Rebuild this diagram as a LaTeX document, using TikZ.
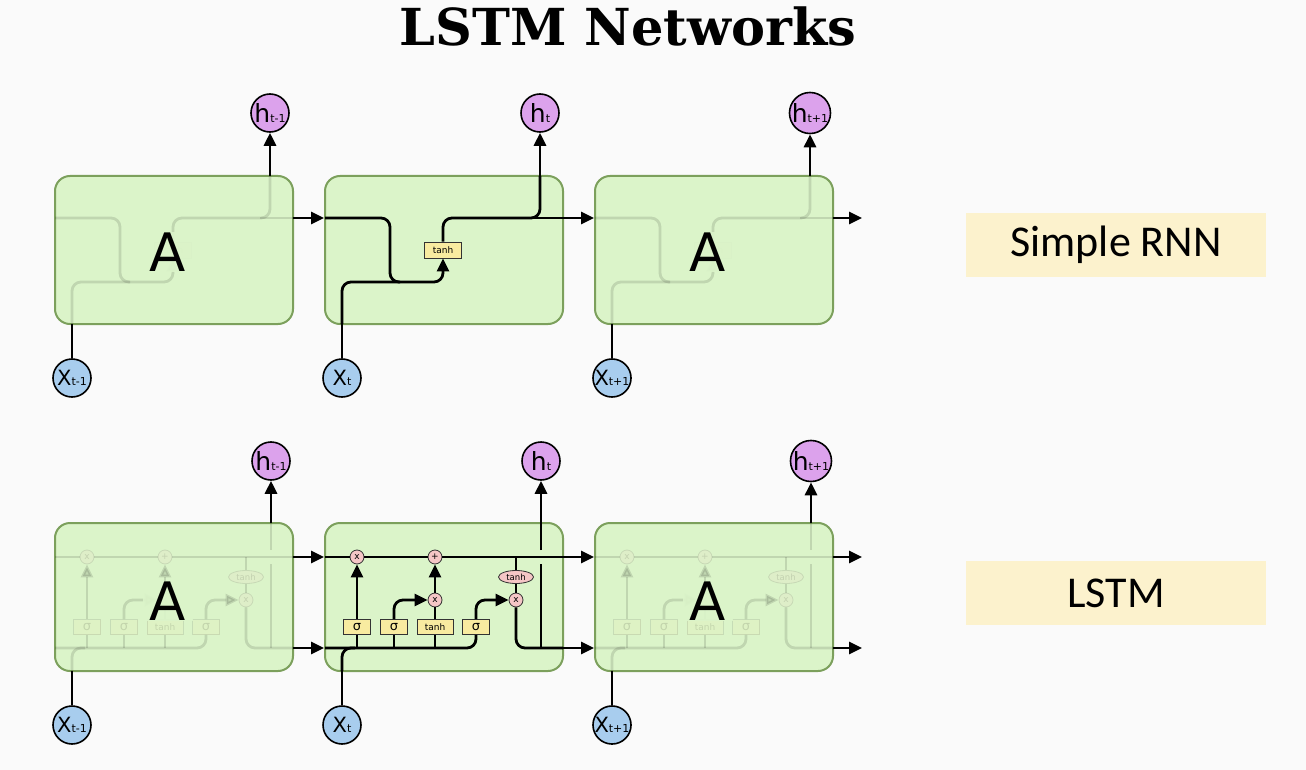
\documentclass[tikz,border=0pt]{standalone}
\usepackage{fontspec}
\setmainfont{DejaVu Sans}
\newfontfamily\titlefont{DejaVu Serif}
\newfontfamily\tagfont{Carlito}
\usetikzlibrary{arrows.meta,shapes.geometric}

\definecolor{bg}{HTML}{FAFAFA}
\definecolor{cellfill}{HTML}{DBF4C9}
\definecolor{celledge}{HTML}{7CA05C}
\definecolor{hfill}{HTML}{DCA2EC}
\definecolor{xfill}{HTML}{A8CDEE}
\definecolor{opfill}{HTML}{F5C6C6}
\definecolor{gatefill}{HTML}{F8EBA0}
\definecolor{tagfill}{HTML}{FCF2CD}

\tikzset{
  wire/.style={line width=2.8pt},
  rwire/.style={wire, rounded corners=9pt},
  arr/.style={-{Triangle[length=13pt,width=12pt]}},
  cellbox/.style={fill=cellfill, draw=celledge, line width=2pt, rounded corners=15pt,
    minimum width=238pt, minimum height=148pt, inner sep=0pt},
  hnode/.style={circle, draw=black, line width=1.6pt, fill=hfill, minimum size=38pt, inner sep=0pt},
  xnode/.style={circle, draw=black, line width=1.6pt, fill=xfill, minimum size=38pt, inner sep=0pt},
  opnode/.style={circle, draw=black!80, line width=0.8pt, fill=opfill, minimum size=14pt,
    inner sep=0pt, font=\fontsize{9}{9}\selectfont},
  gate/.style={rectangle, draw=black!80, line width=0.8pt, fill=gatefill, minimum height=15pt,
    minimum width=27pt, inner sep=0pt, font=\fontsize{13}{13}\selectfont},
  tanhop/.style={ellipse, draw=black!80, line width=0.8pt, fill=opfill, minimum width=35pt,
    minimum height=13pt, inner sep=0pt, font=\fontsize{8.5}{8.5}\selectfont},
  faded/.style={opacity=0.12},
  bigA/.style={font=\fontsize{53}{53}\selectfont, fill=cellfill, fill opacity=0.92,
    text opacity=1, inner xsep=7pt, inner ysep=1pt},
  tagbox/.style={fill=tagfill, minimum width=300pt, minimum height=64pt, inner sep=0pt,
    font=\tagfont\fontsize{44}{44}\selectfont},
}

\newcommand\hlab[1]{{\fontsize{25}{25}\selectfont h}{\fontsize{11}{11}\selectfont #1}}
\newcommand\xlab[1]{{\fontsize{21}{21}\selectfont X}{\fontsize{11}{11}\selectfont #1}}

% one simple recurrent unit: #1 name prefix, #2 time subscript, #3 style of the inner wiring
\newcommand\rnnunit[3]{%
  \node[cellbox] (#1box) at (444,250) {};
  \coordinate (#1in) at (325,218);
  \coordinate (#1out) at (563,218);
  \coordinate (#1xin) at (342,324);
  \coordinate (#1top) at (540,176);
  \begin{scope}[#3]
    \node[gate, minimum width=37pt, minimum height=16pt, font=\fontsize{9}{9}\selectfont]
      (#1tanh) at (443,250) {tanh};
    \draw[rwire, arr] (#1in) -- (390,218) -- (390,282) -- (443,282) -- (#1tanh);
    \draw[rwire] (#1xin) -- (342,282) -- (400,282);
    \draw[rwire] (#1tanh) -- (443,218) -- (540,218) -- (#1top);
    \draw[wire] (530,218) -- (#1out);
  \end{scope}
  \node[hnode] (#1h) at (540,113) {\hlab{#2}};
  \node[xnode] (#1x) at (342,378) {\xlab{#2}};
  \draw[wire, arr] (#1top) -- (#1h);
  \draw[wire] (#1x) -- (#1xin);
}

% one LSTM unit: #1 name prefix, #2 time subscript, #3 style of the inner wiring
\newcommand\lstmunit[3]{%
  \node[cellbox] (#1box) at (444,597) {};
  \coordinate (#1cin) at (325,557);
  \coordinate (#1cout) at (563,557);
  \coordinate (#1hin) at (325,648);
  \coordinate (#1hout) at (563,648);
  \coordinate (#1xin) at (342,671);
  \coordinate (#1top) at (541,523);
  \begin{scope}[#3]
    \node[opnode] (#1f) at (357,557) {x};
    \node[opnode] (#1add) at (435,557) {+};
    \node[opnode] (#1i) at (435,600) {x};
    \node[opnode] (#1o) at (516,600) {x};
    \node[tanhop] (#1ct) at (516,577) {tanh};
    \node[gate] (#1s1) at (357,627) {σ};
    \node[gate] (#1s2) at (394,627) {σ};
    \node[gate, minimum width=36pt, font=\fontsize{9}{9}\selectfont] (#1g) at (435,627) {tanh};
    \node[gate] (#1s3) at (476,627) {σ};
    % cell state
    \draw[wire] (#1cin) -- (#1f);
    \draw[wire] (#1f) -- (#1add);
    \draw[wire] (#1add) -- (#1cout);
    \draw[wire] (516,557) -- (#1ct);
    \draw[wire] (#1ct) -- (#1o);
    % hidden state and input
    \draw[rwire] (#1hin) -- (476,648) -- (#1s3);
    \draw[rwire] (#1xin) -- (342,648) -- (355,648);
    \draw[wire] (357,648) -- (#1s1);
    \draw[wire] (394,648) -- (#1s2);
    \draw[wire] (435,648) -- (#1g);
    % gates
    \draw[wire, arr] (#1s1) -- (#1f);
    \draw[rwire, arr] (#1s2) -- (394,600) -- (#1i);
    \draw[wire] (#1g) -- (#1i);
    \draw[wire, arr] (#1i) -- (#1add);
    \draw[rwire, arr] (#1s3) -- (476,600) -- (#1o);
    \draw[rwire] (#1o) -- (516,648) -- (#1hout);
    \draw[wire] (541,648) -- (541,564);
    \draw[wire] (541,550) -- (#1top);
  \end{scope}
  \node[hnode] (#1h) at (541,461) {\hlab{#2}};
  \node[xnode] (#1x) at (342,725) {\xlab{#2}};
  \draw[wire, arr] (#1top) -- (#1h);
  \draw[wire] (#1x) -- (#1xin);
}

\begin{document}
\begin{tikzpicture}[x=1pt, y=-1pt]
  \fill[bg] (0,0) rectangle (1306,770);
  \useasboundingbox (0,0) rectangle (1306,770);

  \node[font=\titlefont\bfseries\fontsize{51}{51}\selectfont, anchor=base] (title) at (628,46) {LSTM Networks};

  % simple RNN row
  \begin{scope}[xshift=-270pt]
    \rnnunit{ra}{t-1}{faded}
    \node[bigA] (raA) at (438,252) {A};
  \end{scope}
  \rnnunit{rb}{t}{}
  \begin{scope}[xshift=270pt]
    \rnnunit{rc}{t+1}{faded}
    \node[bigA] (rcA) at (438,252) {A};
  \end{scope}
  \coordinate (rend) at (862,218);
  \draw[wire, arr, shorten >=1pt] (raout) -- (rbin);
  \draw[wire, arr, shorten >=1pt] (rbout) -- (rcin);
  \draw[wire, arr] (rcout) -- (rend);

  % LSTM row
  \begin{scope}[xshift=-270pt]
    \lstmunit{la}{t-1}{faded}
    \node[bigA] (laA) at (438,601) {A};
  \end{scope}
  \lstmunit{lb}{t}{}
  \begin{scope}[xshift=270pt]
    \lstmunit{lc}{t+1}{faded}
    \node[bigA] (lcA) at (438,601) {A};
  \end{scope}
  \coordinate (lcend) at (862,557);
  \coordinate (lhend) at (862,648);
  \draw[wire, arr, shorten >=1pt] (lacout) -- (lbcin);
  \draw[wire, arr, shorten >=1pt] (lahout) -- (lbhin);
  \draw[wire, arr, shorten >=1pt] (lbcout) -- (lccin);
  \draw[wire, arr, shorten >=1pt] (lbhout) -- (lchin);
  \draw[wire, arr] (lccout) -- (lcend);
  \draw[wire, arr] (lchout) -- (lhend);

  % captions
  \node[tagbox] (tagrnn) at (1116,245) {Simple RNN};
  \node[tagbox] (taglstm) at (1116,593) {LSTM};
\end{tikzpicture}
\end{document}
